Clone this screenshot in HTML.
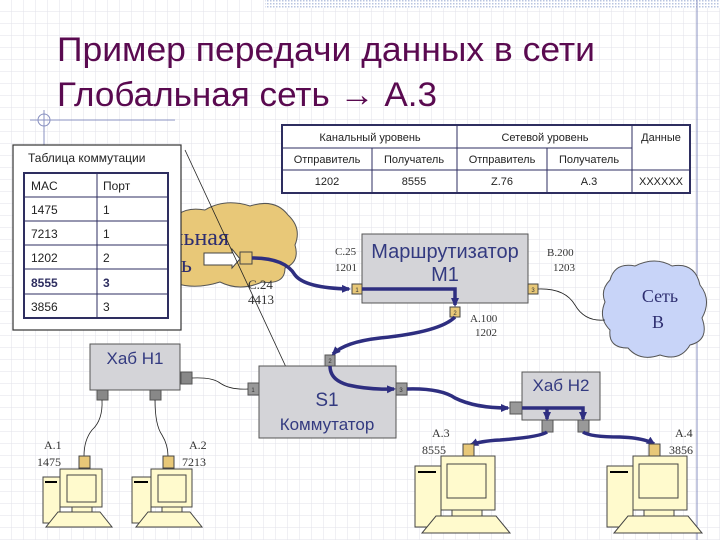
<!DOCTYPE html>
<html><head><meta charset="utf-8"><style>
body{margin:0;width:720px;height:540px;overflow:hidden;background:#fff;font-family:"Liberation Sans","DejaVu Sans",sans-serif}
svg{display:block}
</style></head><body>
<svg width="720" height="540" viewBox="0 0 720 540" xmlns="http://www.w3.org/2000/svg">
<defs>
<pattern id="g" width="12" height="12" patternUnits="userSpaceOnUse"><path d="M12 0V12M0 12H12" stroke="#e2e2ea" stroke-width="1" fill="none"/></pattern>
<pattern id="dots" width="3" height="3" patternUnits="userSpaceOnUse"><rect width="3" height="3" fill="#fff"/><rect width="1.5" height="1.5" fill="#b8c4e0"/></pattern>
<marker id="ah" markerWidth="10" markerHeight="10" refX="7" refY="5" orient="auto" markerUnits="userSpaceOnUse"><path d="M0,1L9,5L0,9Z" fill="#2e2e80"/></marker>
</defs>
<rect width="720" height="540" fill="url(#g)"/>
<rect x="265" y="0" width="455" height="8" fill="url(#dots)"/>
<line x1="697" y1="0" x2="697" y2="540" stroke="#8890c0"/>
<line x1="30" y1="120" x2="175" y2="120" stroke="#8890c0"/>
<circle cx="44" cy="120" r="6" fill="none" stroke="#8890c0"/><line x1="44" y1="110" x2="44" y2="145" stroke="#8890c0"/>
<g fill="#5a0a50" font-size="34">
<text x="57" y="61" textLength="538" lengthAdjust="spacingAndGlyphs">Пример передачи данных в сети</text>
<text x="57" y="106" textLength="380" lengthAdjust="spacingAndGlyphs">Глобальная сеть → А.3</text>
</g>
<!-- global cloud -->
<path d="M170 230 Q175 205 205 210 Q225 198 250 206 Q275 198 288 215 Q302 228 295 245 Q300 262 285 268 Q285 285 262 282 Q240 292 220 282 Q195 290 175 283 Z" fill="#e8c878" stroke="#555" stroke-width="1"/>
<g font-family="Liberation Serif,serif" font-size="24" fill="#2e2e70"><text x="229" y="245" text-anchor="end">льная</text><text x="181" y="272">ь</text></g>
<path d="M204 253H232V249L240 259L232 268V265H204Z" fill="#fff" stroke="#444"/>
<rect x="240" y="252" width="12" height="12" fill="#e8c878" stroke="#444"/>
<!-- switching table -->
<rect x="13" y="145" width="168" height="185" fill="#fff" stroke="#333" stroke-width="1.2"/>
<text x="28" y="162" font-size="12" fill="#222">Таблица коммутации</text>
<g stroke="#2e2e60" stroke-width="1">
<rect x="24" y="173" width="144" height="145" fill="#fff" stroke-width="2"/>
<line x1="97" y1="173" x2="97" y2="318"/>
<line x1="24" y1="197" x2="168" y2="197"/><line x1="24" y1="221" x2="168" y2="221"/><line x1="24" y1="245" x2="168" y2="245"/><line x1="24" y1="269" x2="168" y2="269"/><line x1="24" y1="294" x2="168" y2="294"/>
</g>
<g font-size="12" fill="#222">
<text x="31" y="190">MAC</text><text x="103" y="190">Порт</text>
<text x="31" y="214">1475</text><text x="103" y="214">1</text>
<text x="31" y="238">7213</text><text x="103" y="238">1</text>
<text x="31" y="262">1202</text><text x="103" y="262">2</text>
<text x="31" y="287" font-weight="bold" fill="#2e2e60">8555</text><text x="103" y="287" font-weight="bold" fill="#2e2e60">3</text>
<text x="31" y="311">3856</text><text x="103" y="311">3</text>
</g>
<line x1="185" y1="150" x2="292" y2="380" stroke="#222" stroke-width="0.8"/>
<!-- header table -->
<g stroke="#2e2e60" fill="none">
<rect x="282" y="125" width="408" height="68" stroke-width="2" fill="#fff"/>
<line x1="282" y1="148" x2="632" y2="148"/><line x1="282" y1="170" x2="690" y2="170"/>
<line x1="457" y1="125" x2="457" y2="193"/><line x1="632" y1="125" x2="632" y2="193"/>
<line x1="372" y1="148" x2="372" y2="193"/><line x1="547" y1="148" x2="547" y2="193"/>
</g>
<g font-size="11" fill="#222" text-anchor="middle">
<text x="370" y="141">Канальный уровень</text><text x="545" y="141">Сетевой уровень</text><text x="661" y="141">Данные</text>
<text x="327" y="163">Отправитель</text><text x="414" y="163">Получатель</text><text x="502" y="163">Отправитель</text><text x="589" y="163">Получатель</text>
<text x="327" y="185">1202</text><text x="414" y="185">8555</text><text x="502" y="185">Z.76</text><text x="589" y="185">A.3</text><text x="661" y="185">XXXXXX</text>
</g>
<!-- router -->
<rect x="362" y="234" width="166" height="69" fill="#d4d4d8" stroke="#555"/>
<g fill="#333a80" font-size="20" text-anchor="middle"><text x="445" y="258">Маршрутизатор</text><text x="445" y="281">M1</text></g>
<g font-family="Liberation Serif,serif" font-size="11" fill="#333">
<text x="335" y="255">C.25</text><text x="335" y="271">1201</text>
<text x="547" y="256">B.200</text><text x="553" y="271">1203</text>
<text x="470" y="322">A.100</text><text x="475" y="336">1202</text>
<text x="248" y="289" font-size="13">C.24</text><text x="248" y="304" font-size="13">4413</text>
</g>
<g fill="#e8c878" stroke="#444"><rect x="352" y="284" width="10" height="10"/><rect x="528" y="284" width="10" height="10"/><rect x="450" y="307" width="10" height="10"/></g>
<g font-size="6" fill="#333" text-anchor="middle"><text x="357" y="292">1</text><text x="533" y="292">3</text><text x="455" y="315">2</text></g>
<!-- cloud B -->
<path d="M610 280 Q615 262 635 266 Q655 256 672 266 Q695 262 700 285 Q712 300 702 318 Q710 340 690 345 Q680 362 660 355 Q640 362 628 348 Q608 348 610 330 Q598 318 605 302 Q600 290 610 280Z" fill="#c8d4f8" stroke="#555"/>
<g font-family="Liberation Serif,serif" font-size="18" fill="#2e2e70" text-anchor="middle"><text x="660" y="302">Сеть</text><text x="658" y="328">B</text></g>
<path d="M538 289 Q565 288 575 305 Q585 322 605 320" fill="none" stroke="#222" stroke-width="0.8"/>
<!-- hub H1 -->
<rect x="90" y="344" width="90" height="46" fill="#d4d4d8" stroke="#555"/>
<text x="135" y="364" font-size="17" fill="#333a80" text-anchor="middle">Хаб H1</text>
<g fill="#888" stroke="#555"><rect x="181" y="372" width="11" height="12"/><rect x="97" y="390" width="11" height="10"/><rect x="150" y="390" width="11" height="10"/></g>
<!-- switch -->
<rect x="259" y="366" width="137" height="72" fill="#d4d4d8" stroke="#555"/>
<g fill="#333a80" text-anchor="middle"><text x="327" y="406" font-size="19">S1</text><text x="327" y="430" font-size="17">Коммутатор</text></g>
<g fill="#999" stroke="#555"><rect x="248" y="383" width="11" height="12"/><rect x="325" y="355" width="10" height="11"/><rect x="396" y="383" width="11" height="12"/></g>
<g font-size="6" fill="#333" text-anchor="middle"><text x="253" y="392">1</text><text x="330" y="363">2</text><text x="401" y="392">3</text></g>
<!-- hub H2 -->
<rect x="522" y="372" width="78" height="48" fill="#d4d4d8" stroke="#555"/>
<text x="561" y="391" font-size="17" fill="#333a80" text-anchor="middle">Хаб H2</text>
<g fill="#999" stroke="#555"><rect x="510" y="402" width="12" height="12"/><rect x="542" y="420" width="11" height="12"/><rect x="578" y="420" width="11" height="12"/></g>
<!-- thin wires -->
<g fill="none" stroke="#222" stroke-width="0.8">
<path d="M192 378 Q212 377 220 383 Q230 390 248 389"/>
<path d="M102 400 Q103 420 92 430 Q84 440 84 456"/>
<path d="M155 400 Q155 425 162 435 Q168 445 168 456"/>
</g>
<!-- blue arrows -->
<g fill="none" stroke="#2e2e80" stroke-width="3.5" marker-end="url(#ah)">
<path d="M252 258 Q285 258 295 275 Q305 288 349 289"/>
<path d="M362 289 H455 V305"/>
<path d="M455 317 Q440 332 380 338 Q345 342 333 354"/>
<path d="M330 366 Q330 380 348 385 Q370 390 394 389"/>
<path d="M407 389 Q440 388 455 398 Q475 408 508 408"/>
<path d="M522 408 H583 V419"/>
<path d="M547 408 V419"/>
<path d="M547 432 Q540 437 500 440 Q480 441 471 445"/>
<path d="M583 432 Q590 437 620 437 Q645 438 654 444"/>
</g>
<g stroke="#444" stroke-width="1">
<!-- A1 -->
<rect x="79" y="456" width="11" height="12" fill="#e8c878"/>
<rect x="43" y="477" width="17" height="46" fill="#fffacd"/><line x1="45" y1="482" x2="57" y2="482" stroke="#000" stroke-width="2"/>
<rect x="60" y="469" width="42" height="38" fill="#fffacd"/><rect x="67" y="475" width="29" height="27" fill="#fffacd"/>
<rect x="72" y="507" width="20" height="5" fill="#fffacd"/>
<path d="M58 512H100L112 527H46Z" fill="#fffacd"/>
<!-- A2 -->
<rect x="163" y="456" width="11" height="12" fill="#e8c878"/>
<rect x="132" y="477" width="19" height="46" fill="#fffacd"/><line x1="134" y1="482" x2="148" y2="482" stroke="#000" stroke-width="2"/>
<rect x="151" y="469" width="41" height="38" fill="#fffacd"/><rect x="158" y="475" width="28" height="27" fill="#fffacd"/>
<rect x="162" y="507" width="20" height="5" fill="#fffacd"/>
<path d="M148 512H190L202 527H136Z" fill="#fffacd"/>
<!-- A3 -->
<rect x="463" y="444" width="11" height="12" fill="#e8c878"/>
<rect x="415" y="466" width="26" height="61" fill="#fffacd"/><line x1="418" y1="472" x2="436" y2="472" stroke="#000" stroke-width="2"/>
<rect x="441" y="456" width="54" height="54" fill="#fffacd"/><rect x="447" y="464" width="39" height="34" fill="#fffacd"/>
<rect x="452" y="510" width="30" height="6" fill="#fffacd"/>
<path d="M436 516H496L510 533H422Z" fill="#fffacd"/>
<!-- A4 -->
<rect x="649" y="444" width="11" height="12" fill="#e8c878"/>
<rect x="607" y="466" width="26" height="61" fill="#fffacd"/><line x1="610" y1="472" x2="628" y2="472" stroke="#000" stroke-width="2"/>
<rect x="633" y="456" width="54" height="54" fill="#fffacd"/><rect x="639" y="464" width="39" height="34" fill="#fffacd"/>
<rect x="644" y="510" width="30" height="6" fill="#fffacd"/>
<path d="M628 516H688L702 533H614Z" fill="#fffacd"/>
</g>
<g font-family="Liberation Serif,serif" font-size="12" fill="#333">
<text x="44" y="449">A.1</text><text x="37" y="466">1475</text>
<text x="189" y="449">A.2</text><text x="182" y="466">7213</text>
<text x="432" y="437">A.3</text><text x="422" y="454">8555</text>
<text x="675" y="437">A.4</text><text x="669" y="454">3856</text>
</g>
</svg>
</body></html>
